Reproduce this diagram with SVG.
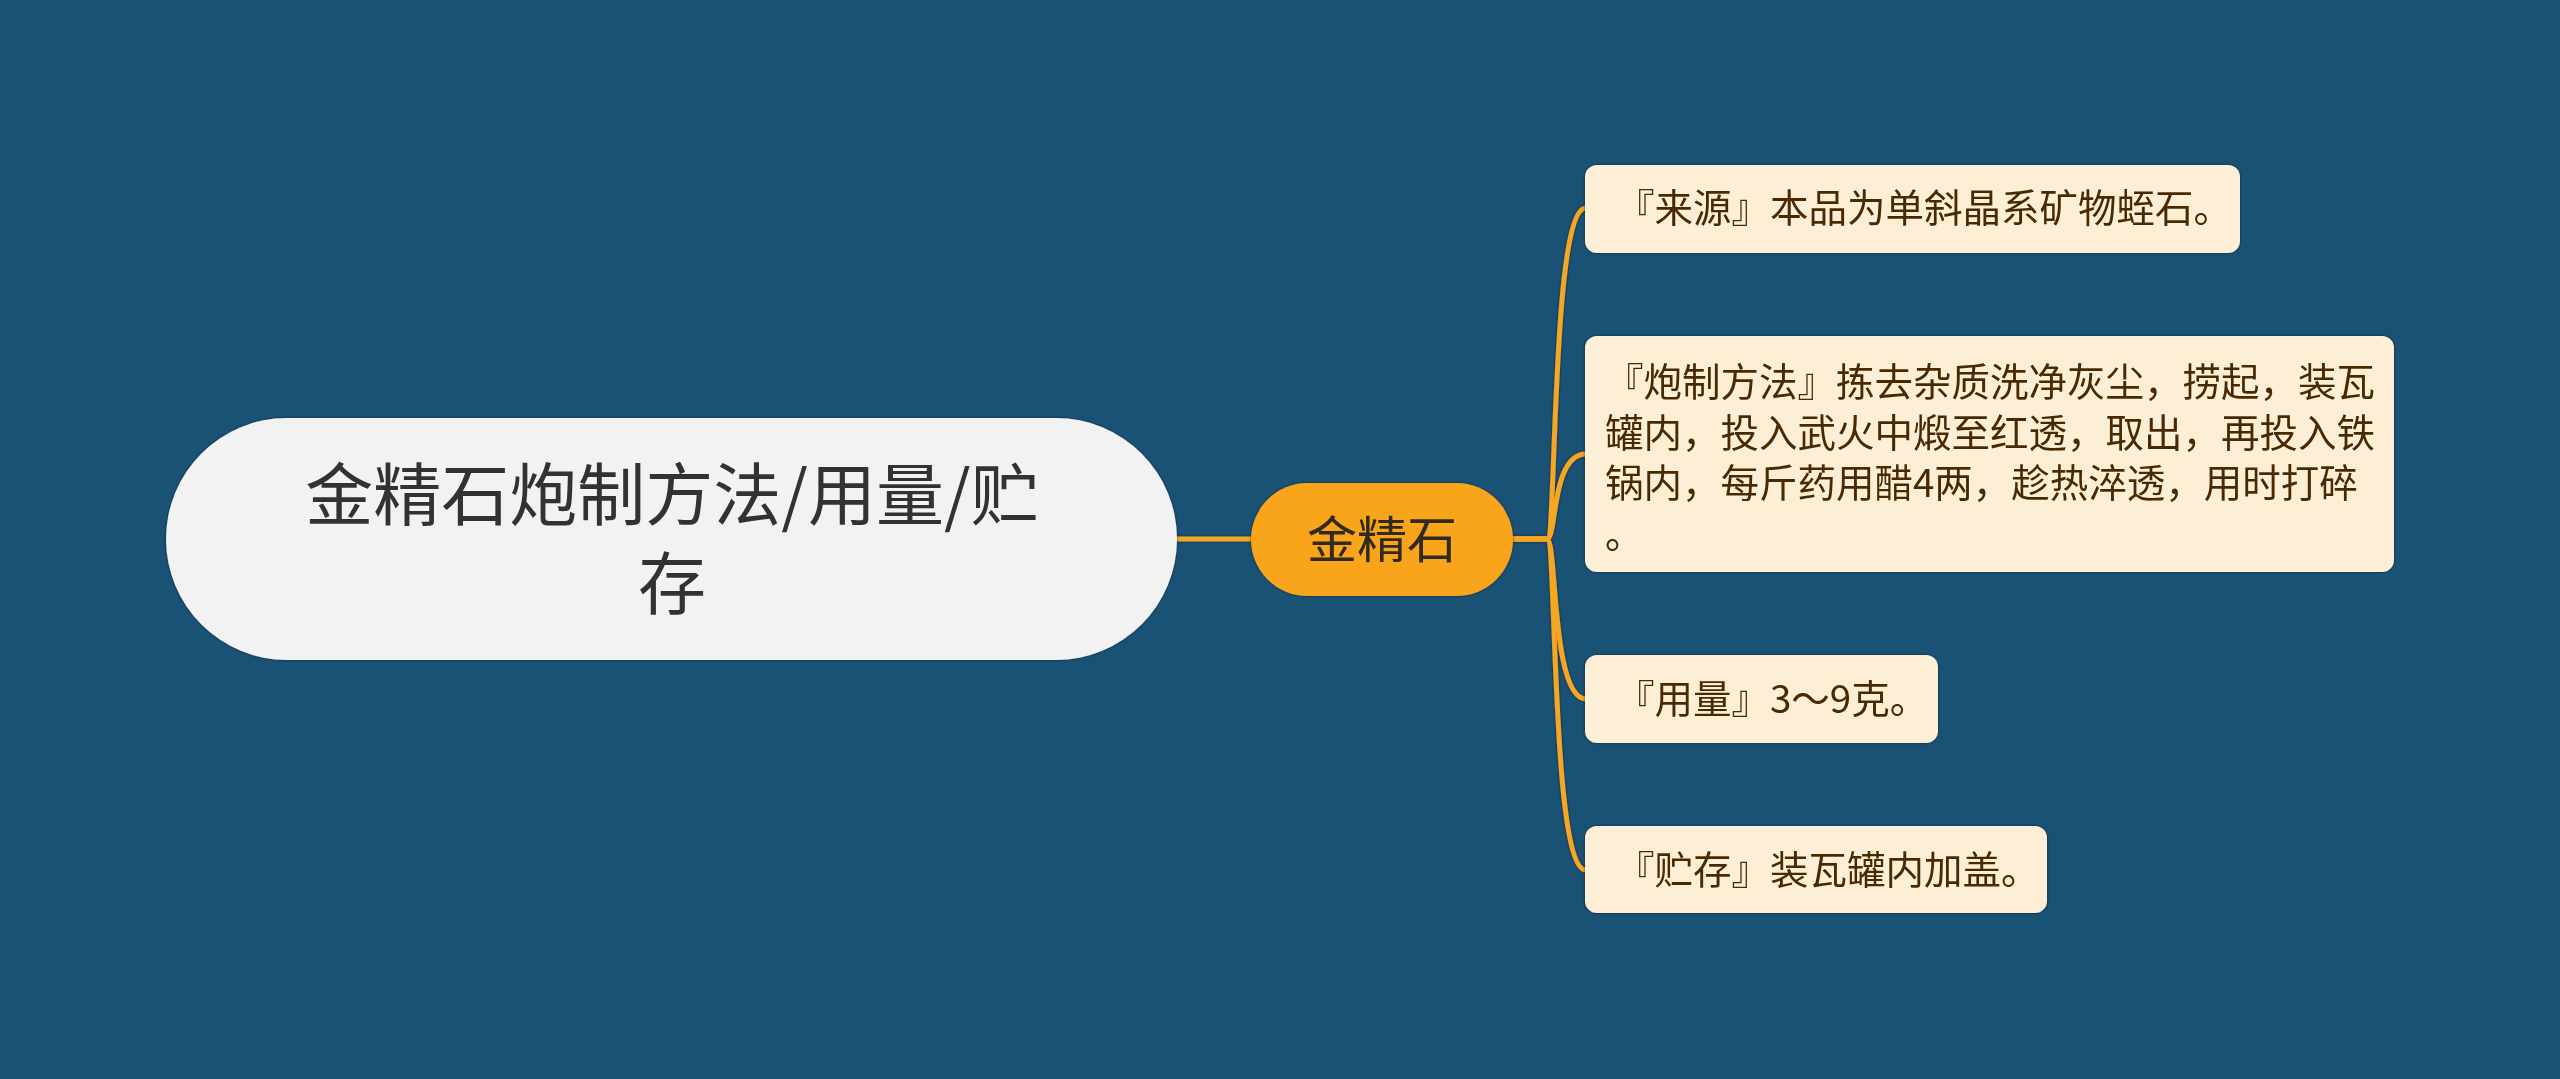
<svg xmlns="http://www.w3.org/2000/svg" width="2560" height="1079" viewBox="0 0 2560 1079">
<defs>
<style>
.t{font-family:"Noto Sans CJK SC","Noto Sans",sans-serif;}
.root{fill:#f2f2f2;}
.main{fill:#f8a51b;}
.leaf{fill:#fdefd5;}
.lt{font-size:38.5px;fill:#4a2c05;}
.conn{fill:none;stroke:#f5a623;stroke-width:5;stroke-linecap:round;}
</style>
<filter id="sh" x="-10%" y="-10%" width="120%" height="120%">
<feDropShadow dx="0" dy="0" stdDeviation="1.6" flood-color="#000" flood-opacity="0.55"/>
</filter>
</defs>
<rect width="2560" height="1079" fill="#1a5276"/>
<g id="connectors" filter="url(#sh)">
<path class="conn" d="M1177 539 H1251"/>
<path class="conn" d="M1513 539 H1547 C1557 539 1551 208 1586 208"/>
<path class="conn" d="M1513 539 H1547 C1557 539 1551 454 1586 454"/>
<path class="conn" d="M1513 539 H1547 C1557 539 1551 699 1586 699"/>
<path class="conn" d="M1513 539 H1547 C1557 539 1551 870 1586 870"/>
</g>
<g id="node-root" filter="url(#sh)">
<rect class="root" x="166" y="418" width="1011" height="242" rx="121"/>
<text class="t" font-size="68" fill="#333" text-anchor="middle"><tspan x="672" y="520">金精石炮制方法/用量/贮</tspan><tspan x="672" y="609">存</tspan></text>
</g>
<g id="node-main" filter="url(#sh)">
<rect class="main" x="1251" y="483" width="262" height="113" rx="56.5"/>
<text class="t" x="1382" y="558" font-size="50" fill="#33291a" text-anchor="middle">金精石</text>
</g>
<g id="node-source" filter="url(#sh)">
<rect class="leaf" x="1585" y="165" width="655" height="88" rx="12"/>
<text class="t lt" x="1616" y="222">『来源』本品为单斜晶系矿物蛭石。</text>
</g>
<g id="node-process" filter="url(#sh)">
<rect class="leaf" x="1585" y="336" width="809" height="236" rx="12"/>
<text class="t lt"><tspan x="1605" y="396">『炮制方法』拣去杂质洗净灰尘，捞起，装瓦</tspan><tspan x="1605" y="447">罐内，投入武火中煅至红透，取出，再投入铁</tspan><tspan x="1605" y="497">锅内，每斤药用醋4两，趁热淬透，用时打碎</tspan><tspan x="1605" y="548">。</tspan></text>
</g>
<g id="node-dose" filter="url(#sh)">
<rect class="leaf" x="1585" y="655" width="353" height="88" rx="12"/>
<text class="t lt" x="1616" y="713">『用量』3～9克。</text>
</g>
<g id="node-storage" filter="url(#sh)">
<rect class="leaf" x="1585" y="826" width="462" height="87" rx="12"/>
<text class="t lt" x="1616" y="884">『贮存』装瓦罐内加盖。</text>
</g>
</svg>
